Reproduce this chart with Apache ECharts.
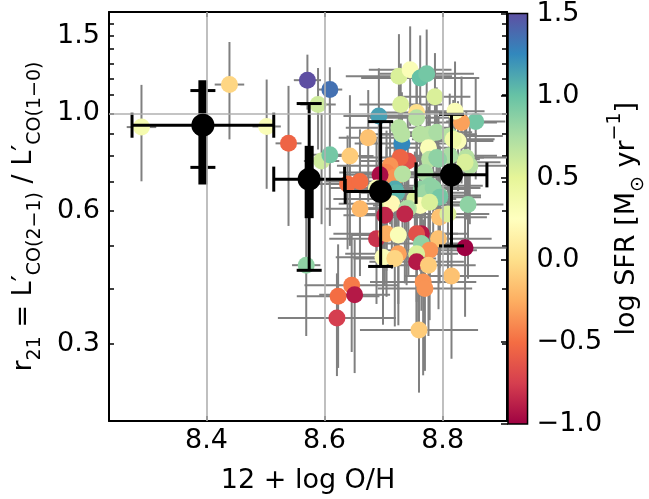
<!DOCTYPE html>
<html>
<head>
<meta charset="utf-8">
<script src="https://cdn.jsdelivr.net/npm/echarts@6.0.0/dist/echarts.min.js"></script>
<style>
  html, body { margin: 0; padding: 0; background: #fff; }
  #chart { width: 649px; height: 499px; }
</style>
</head>
<body>
<div id="chart"></div>
<script>
// galaxies: metallicity, line ratio, SFR and their errors
const oh = [8.290, 8.439, 8.502, 8.539, 8.571, 8.609, 8.589, 8.595, 8.609, 8.643,
  8.674, 8.692, 8.569, 8.639, 8.660, 8.660, 8.623, 8.646, 8.651, 8.621,
  8.760, 8.815, 8.838, 8.767, 8.770, 8.843, 8.856, 8.832, 8.821, 8.726,
  8.745, 8.762, 8.773, 8.787, 8.729, 8.756, 8.756, 8.726, 8.731, 8.731,
  8.778, 8.762, 8.790, 8.776, 8.812, 8.826, 8.818, 8.741, 8.728, 8.711,
  8.705, 8.719, 8.732, 8.778, 8.790, 8.840, 8.846, 8.838, 8.812, 8.793,
  8.770, 8.694, 8.778, 8.795, 8.764, 8.753, 8.719, 8.688, 8.705, 8.722,
  8.770, 8.784, 8.795, 8.762, 8.778, 8.714, 8.742, 8.739, 8.702, 8.736,
  8.795, 8.809, 8.688, 8.705, 8.725, 8.764, 8.756, 8.793, 8.764, 8.778,
  8.756, 8.699, 8.725, 8.719, 8.756, 8.776]
const r21 = [0.931, 1.163, 0.934, 0.855, 1.190, 1.133, 1.048, 0.780, 0.805, 0.800,
  0.880, 0.986, 0.452, 0.691, 0.700, 0.607, 0.384, 0.407, 0.387, 0.343,
  0.322, 0.427, 0.495, 0.414, 0.400, 0.621, 0.958, 0.953, 1.012, 1.214,
  1.257, 1.204, 1.231, 1.091, 1.048, 1.005, 0.978, 0.928, 0.854, 0.897,
  0.897, 0.897, 0.906, 0.836, 0.889, 0.866, 0.873, 0.780, 0.794, 0.760,
  0.734, 0.716, 0.728, 0.787, 0.794, 0.794, 0.760, 0.774, 0.801, 0.787,
  0.734, 0.725, 0.685, 0.651, 0.673, 0.639, 0.673, 0.677, 0.639, 0.660,
  0.660, 0.677, 0.645, 0.618, 0.628, 0.623, 0.609, 0.607, 0.587, 0.591,
  0.581, 0.591, 0.519, 0.533, 0.529, 0.533, 0.533, 0.519, 0.506, 0.489,
  0.480, 0.471, 0.480, 0.468, 0.460, 0.452]
const logSfr = [0.35, -0.05, 0.30, -0.55, 1.50, 1.35, 0.60, 0.60, 0.95, -0.10,
  -0.15, 1.15, 0.85, -0.50, -0.50, -0.20, -0.50, -0.45, -0.90, -0.75,
  -0.10, -0.15, -1.00, -0.35, -0.35, 0.85, 0.95, -0.30, 0.30, 0.55,
  0.30, 1.00, 0.95, 0.55, 0.55, 0.00, 0.70, 0.70, 1.25, 0.70,
  0.70, 0.70, 0.75, 0.30, 0.70, 0.30, 0.40, -0.65, -0.55, -0.35,
  -0.40, -0.35, 0.70, 0.70, 0.85, 0.70, 0.70, 0.55, 0.75, 0.85,
  0.75, -0.95, 0.85, 0.85, 0.85, 0.55, 1.10, 0.30, 0.55, 1.05,
  0.80, 0.85, 0.95, 0.30, 0.55, 0.20, 0.70, 0.75, -0.85, -0.85,
  -0.15, 0.55, -0.80, -0.25, 0.30, -0.90, -0.65, -0.15, 0.85, -0.35,
  0.55, 0.30, -0.30, -0.05, -0.90, -0.10]
const ohErr = [0.025, 0.025, 0.024, 0.022, 0.023, 0.021, 0.030, 0.030, 0.040, 0.040,
  0.050, 0.060, 0.024, 0.050, 0.060, 0.060, 0.070, 0.080, 0.060, 0.100,
  0.100, 0.080, 0.070, 0.090, 0.080, 0.060, 0.050, 0.060, 0.050, 0.090,
  0.070, 0.100, 0.080, 0.060, 0.070, 0.060, 0.080, 0.090, 0.080, 0.070,
  0.080, 0.070, 0.060, 0.070, 0.090, 0.060, 0.070, 0.080, 0.070, 0.090,
  0.080, 0.070, 0.080, 0.070, 0.080, 0.070, 0.090, 0.060, 0.080, 0.070,
  0.080, 0.060, 0.090, 0.070, 0.080, 0.070, 0.070, 0.080, 0.090, 0.060,
  0.070, 0.080, 0.070, 0.080, 0.070, 0.090, 0.070, 0.080, 0.070, 0.080,
  0.080, 0.070, 0.080, 0.090, 0.080, 0.080, 0.070, 0.090, 0.070, 0.080,
  0.070, 0.080, 0.090, 0.070, 0.080, 0.080]
const r21Err = [0.23, 0.29, 0.26, 0.30, 0.17, 0.14, 0.22, 0.22, 0.25, 0.30,
  0.25, 0.28, 0.14, 0.20, 0.22, 0.18, 0.12, 0.12, 0.13, 0.09,
  0.09, 0.15, 0.15, 0.16, 0.14, 0.20, 0.25, 0.26, 0.30, 0.30,
  0.32, 0.30, 0.32, 0.28, 0.25, 0.26, 0.25, 0.22, 0.20, 0.22,
  0.22, 0.20, 0.24, 0.20, 0.22, 0.20, 0.20, 0.20, 0.18, 0.20,
  0.18, 0.18, 0.20, 0.20, 0.20, 0.22, 0.20, 0.20, 0.22, 0.20,
  0.20, 0.20, 0.18, 0.18, 0.20, 0.18, 0.18, 0.20, 0.20, 0.18,
  0.18, 0.18, 0.20, 0.18, 0.20, 0.18, 0.18, 0.20, 0.18, 0.18,
  0.17, 0.18, 0.15, 0.15, 0.16, 0.15, 0.16, 0.16, 0.15, 0.15,
  0.15, 0.14, 0.15, 0.14, 0.14, 0.14]

// binned medians
const binOh = [8.394, 8.574, 8.695, 8.815]
const binR21 = [0.940, 0.709, 0.665, 0.725]
const binOhErr = [0.12, 0.06, 0.06, 0.06]
const binErrLo = [0.186, 0.269, 0.216, 0.225]
const binErrHi = [0.187, 0.344, 0.293, 0.270]
const binSemLo = [0.251, 0.131, 0, 0]
const binSemHi = [0.249, 0.135, 0, 0]

// ticks
const xTicks = [8.4, 8.6, 8.8]
const yLabelTicks = [0.3, 0.6, 1.0, 1.5]
const yMinorTicks = [0.3, 0.4, 0.5, 0.6, 0.7, 0.8, 0.9, 1.0, 1.1, 1.2, 1.3, 1.4, 1.5, 1.6]
const cbarRange = [-1, 1.5]

const spectral = ['#9e0142', '#d53e4f', '#f46d43', '#fdae61', '#fee08b', '#ffffbf',
  '#e6f598', '#abdda4', '#66c2a5', '#3288bd', '#5e4fa2']

const FONT = 'DejaVu Sans'
const lg = (v) => Math.log10(v)
const chart = echarts.init(document.getElementById('chart'), null, { renderer: 'canvas' })

const pointData = oh.map((x, i) => [x, lg(r21[i]), logSfr[i], ohErr[i], r21[i], r21Err[i]])
const binData = binOh.map((x, i) => [x, lg(binR21[i]), binOhErr[i], binR21[i],
  binErrLo[i], binErrHi[i], binSemLo[i], binSemHi[i]])

const errRender = (params, api) => {
  const x = api.value(0), ly = api.value(1), xe = api.value(3)
  const r = api.value(4), ye = api.value(5)
  const c = api.coord([x, ly])
  const l = api.coord([x - xe, ly])
  const rr = api.coord([x + xe, ly])
  const t = api.coord([x, lg(r + ye)])
  const b = api.coord([x, lg(Math.max(r - ye, 0.05))])
  const style = { stroke: '#808080', lineWidth: 2 }
  return {
    type: 'group',
    children: [
      { type: 'line', shape: { x1: l[0], y1: c[1], x2: rr[0], y2: c[1] }, style },
      { type: 'line', shape: { x1: c[0], y1: t[1], x2: c[0], y2: b[1] }, style }
    ]
  }
}

const binRender = (params, api) => {
  const x = api.value(0), ly = api.value(1), xe = api.value(2), r = api.value(3)
  const c = api.coord([x, ly])
  const l = api.coord([x - xe, ly])
  const rr = api.coord([x + xe, ly])
  const t = api.coord([x, lg(r + api.value(5))])
  const b = api.coord([x, lg(r - api.value(4))])
  const style = { stroke: '#000', lineWidth: 3 }
  const cap = 12.5
  const children = []
  if (api.value(6) > 0) {
    const st = api.coord([x, lg(r + api.value(7))])
    const sb = api.coord([x, lg(r - api.value(6))])
    children.push({ type: 'rect', shape: { x: c[0] - 4.5, y: st[1], width: 9, height: sb[1] - st[1] }, style: { fill: '#000' } })
  }
  children.push(
    { type: 'line', shape: { x1: l[0], y1: c[1], x2: rr[0], y2: c[1] }, style },
    { type: 'line', shape: { x1: l[0], y1: c[1] - cap, x2: l[0], y2: c[1] + cap }, style },
    { type: 'line', shape: { x1: rr[0], y1: c[1] - cap, x2: rr[0], y2: c[1] + cap }, style },
    { type: 'line', shape: { x1: c[0], y1: t[1], x2: c[0], y2: b[1] }, style },
    { type: 'line', shape: { x1: c[0] - cap, y1: t[1], x2: c[0] + cap, y2: t[1] }, style },
    { type: 'line', shape: { x1: c[0] - cap, y1: b[1], x2: c[0] + cap, y2: b[1] }, style }
  )
  return { type: 'group', children }
}

const cbarRender = (params, api) => {
  const p0 = api.coord([0, api.value(2)])
  const p1 = api.coord([1, api.value(1)])
  const stops = spectral.slice().reverse().map((c, i, a) => ({ offset: i / (a.length - 1), color: c }))
  return {
    type: 'rect',
    shape: { x: p0[0], y: p0[1], width: p1[0] - p0[0], height: p1[1] - p0[1] },
    style: { fill: new echarts.graphic.LinearGradient(0, 0, 0, 1, stops), stroke: '#000', lineWidth: 1.5 }
  }
}

const tickStyle = { inside: true, length: 5, lineStyle: { color: '#000', width: 1.5 } }
const lineStyle = { show: true, onZero: false, lineStyle: { color: '#000', width: 2 } }
const labelStyle = { color: '#000', fontFamily: FONT, fontSize: 27 }
const richName = {
  n: { fontFamily: FONT, fontSize: 27, lineHeight: 42, color: '#000' },
  s: { fontFamily: FONT, fontSize: 19, lineHeight: 19, verticalAlign: 'bottom', color: '#000' },
  p: { fontFamily: FONT, fontSize: 19, lineHeight: 19, verticalAlign: 'top', color: '#000' }
}
const yMin = lg(0.2), yMax = lg(1.7)

const option = {
  animation: false,
  backgroundColor: '#fff',
  grid: [
    { left: 109, top: 12, width: 398, height: 411 },
    { left: 508, top: 12, width: 33, height: 412 }
  ],
  xAxis: [
    {
      type: 'value', gridIndex: 0, min: 8.235, max: 8.909,
      axisLine: lineStyle, splitLine: { show: false },
      axisTick: { ...tickStyle, customValues: xTicks },
      axisLabel: { ...labelStyle, margin: 6, customValues: xTicks, formatter: (v) => v.toFixed(1) },
      name: '12 + log O/H', nameLocation: 'middle', nameGap: 46,
      nameTextStyle: { ...labelStyle }
    },
    {
      type: 'value', gridIndex: 0, position: 'top', min: 8.235, max: 8.909,
      axisLine: lineStyle, splitLine: { show: false },
      axisTick: { ...tickStyle, customValues: xTicks },
      axisLabel: { show: false }
    },
    { type: 'value', gridIndex: 1, min: 0, max: 1, show: false }
  ],
  yAxis: [
    {
      type: 'value', gridIndex: 0, min: yMin, max: yMax,
      axisLine: lineStyle, splitLine: { show: false },
      axisTick: { ...tickStyle, customValues: yMinorTicks.map(lg) },
      axisLabel: { ...labelStyle, margin: 9, customValues: yLabelTicks.map(lg),
        formatter: (v) => Math.pow(10, v).toFixed(1) },
      name: '{n|r}{s|21}{n| = L′}{s|CO(2−1)}{n| / L′}{s|CO(1−0)}',
      nameLocation: 'middle', nameRotate: 90, nameGap: 64,
      nameTextStyle: { rich: richName }
    },
    {
      type: 'value', gridIndex: 0, position: 'right', min: yMin, max: yMax,
      axisLine: lineStyle, splitLine: { show: false },
      axisTick: { ...tickStyle, customValues: yMinorTicks.map(lg) },
      axisLabel: { show: false }
    },
    {
      type: 'value', gridIndex: 1, position: 'right', min: cbarRange[0], max: cbarRange[1], interval: 0.5,
      axisLine: { show: false }, splitLine: { show: false },
      axisTick: { inside: true, length: 7, lineStyle: { color: '#000', width: 1.5 } },
      axisLabel: { ...labelStyle, margin: 9, formatter: (v) => v.toFixed(1).replace('-', '−') },
      name: '{n|log SFR [M}{s|⊙}{n| yr}{p|−1}{n|]}',
      nameLocation: 'middle', nameRotate: 90, nameGap: 78,
      nameTextStyle: { rich: richName }
    }
  ],
  visualMap: {
    type: 'continuous', show: false, min: cbarRange[0], max: cbarRange[1],
    dimension: 2, seriesIndex: 2, inRange: { color: spectral }
  },
  series: [
    {
      type: 'line', xAxisIndex: 0, yAxisIndex: 0, data: [], z: 1, silent: true,
      markLine: {
        silent: true, symbol: 'none', label: { show: false },
        lineStyle: { color: '#b0b0b0', width: 1.6, type: 'solid' },
        data: [...xTicks.map((v) => ({ xAxis: v })), { yAxis: 0 }]
      }
    },
    {
      type: 'custom', xAxisIndex: 0, yAxisIndex: 0, z: 2, clip: true,
      renderItem: errRender, encode: { x: 0, y: 1 }, data: pointData
    },
    {
      type: 'scatter', xAxisIndex: 0, yAxisIndex: 0, z: 3,
      symbolSize: 17, itemStyle: { opacity: 1 }, data: pointData, encode: { x: 0, y: 1 }
    },
    {
      type: 'custom', xAxisIndex: 0, yAxisIndex: 0, z: 4,
      renderItem: binRender, encode: { x: 0, y: 1 }, data: binData
    },
    {
      type: 'scatter', xAxisIndex: 0, yAxisIndex: 0, z: 5,
      symbolSize: 23, itemStyle: { color: '#000', opacity: 1 }, data: binData.map((d) => [d[0], d[1]])
    },
    {
      type: 'custom', xAxisIndex: 2, yAxisIndex: 2, z: 2,
      renderItem: cbarRender, encode: { x: 0, y: [1, 2] }, data: [[0, cbarRange[0], cbarRange[1]]]
    }
  ]
}

chart.setOption(option)
</script>
</body>
</html>
